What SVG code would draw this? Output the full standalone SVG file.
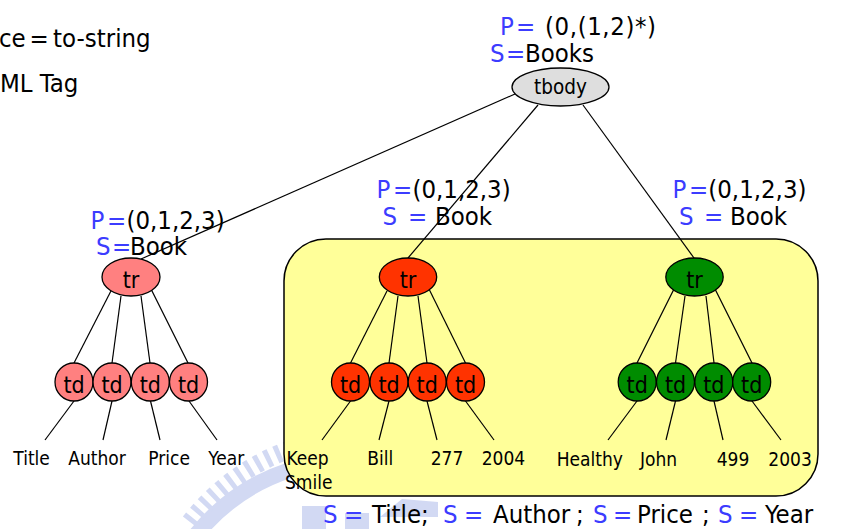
<svg xmlns="http://www.w3.org/2000/svg" width="855" height="529" viewBox="0 0 855 529">
  <style>
    text { font-family: "DejaVu Sans Condensed", "Liberation Sans", Arial, sans-serif; fill: #000; }
    .big { font-size: 25.5px; }
    .blue { fill: #3c3cff; }
    .node { font-size: 23px; text-anchor: middle; }
    .leaf { font-size: 19px; }
    .edge { stroke: #000; stroke-width: 1.2; fill: none; }
    .outline { stroke: #000; stroke-width: 1.3; }
    .pink { fill: #ff8080; }
    .red { fill: #ff3300; }
    .green { fill: #008c00; }
    .wm { fill: #c3cdf0; }
  </style>

  <rect width="855" height="529" fill="#fff"/>

  <!-- faded emblem in the background -->
  <g id="emblem" opacity="0.75">
    <path d="M 196 535 A 200 200 0 0 1 290 470" stroke="#c3cdf0" stroke-width="16" fill="none"/>
    <path d="M 190 522 A 222 222 0 0 1 288 450" stroke="#c3cdf0" stroke-width="18" stroke-dasharray="5 6" fill="none"/>
    <rect class="wm" x="302" y="506" width="24" height="23"/>
    <rect class="wm" x="345" y="513" width="24" height="16"/>
    <polygon class="wm" points="380,517 402,499 438,502 438,517"/>
  </g>

  <!-- top-left notes -->
  <g id="notes">
    <text class="big" x="-1" y="46.5">ce</text>
    <text class="big" x="29.5" y="46.5">=</text>
    <text class="big" x="53" y="46.5">to-string</text>
    <text class="big" x="0" y="91.5">ML Tag</text>
  </g>

  <!-- highlighted region -->
  <rect id="region" x="284" y="239" width="534" height="257" rx="42" ry="42" fill="#ffff99" stroke="#000" stroke-width="1.5"/>

  <!-- connectors -->
  <g id="connectors" class="edge">
    <line x1="515" y1="94" x2="141" y2="259"/>
    <line x1="538" y1="105" x2="408" y2="258"/>
    <line x1="583" y1="105" x2="694" y2="258"/>

    <line x1="113" y1="287" x2="74" y2="363"/>
    <line x1="121" y1="296" x2="112" y2="363"/>
    <line x1="141" y1="296" x2="150" y2="363"/>
    <line x1="150" y1="287" x2="188" y2="363"/>

    <line x1="387" y1="291" x2="350.5" y2="363"/>
    <line x1="398" y1="296" x2="389" y2="363"/>
    <line x1="418" y1="296" x2="427" y2="363"/>
    <line x1="428" y1="287" x2="465.5" y2="363"/>

    <line x1="675" y1="287" x2="637" y2="363"/>
    <line x1="685" y1="296" x2="675.5" y2="363"/>
    <line x1="706" y1="296" x2="714" y2="363"/>
    <line x1="714" y1="287" x2="752" y2="363"/>

    <line x1="74" y1="401" x2="45" y2="440"/>
    <line x1="112" y1="401" x2="103" y2="440"/>
    <line x1="150.5" y1="401" x2="160" y2="440"/>
    <line x1="189" y1="401" x2="217" y2="440"/>

    <line x1="350.5" y1="401" x2="322" y2="440"/>
    <line x1="389" y1="401" x2="379" y2="440"/>
    <line x1="427" y1="401" x2="437" y2="440"/>
    <line x1="465.5" y1="401" x2="494" y2="440"/>

    <line x1="637" y1="401" x2="608" y2="440"/>
    <line x1="675.5" y1="401" x2="666" y2="440"/>
    <line x1="714" y1="401" x2="723" y2="440"/>
    <line x1="752" y1="401" x2="781" y2="440"/>
  </g>

  <!-- root -->
  <g id="tbody">
    <ellipse class="outline" cx="560.5" cy="87" rx="48.5" ry="19" fill="#dedede"/>
    <text x="560.5" y="94" font-size="20.5" text-anchor="middle">tbody</text>
    <text class="big" y="35"><tspan class="blue" x="500">P</tspan><tspan class="blue" x="516">=</tspan><tspan x="545" letter-spacing="0.6">(0,(1,2)*)</tspan></text>
    <text class="big" y="62"><tspan class="blue" x="490">S</tspan><tspan class="blue" x="506">=</tspan><tspan x="525">Books</tspan></text>
  </g>

  <!-- rows -->
  <g id="tr-left">
    <ellipse class="outline pink" cx="131" cy="277" rx="29" ry="19"/>
    <text class="node" x="131" y="288">tr</text>
    <text class="big" y="229"><tspan class="blue" x="90.5">P</tspan><tspan class="blue" x="107">=</tspan><tspan x="126.5">(0,1,2,3)</tspan></text>
    <text class="big" y="255"><tspan class="blue" x="96">S</tspan><tspan class="blue" x="112">=</tspan><tspan x="130">Book</tspan></text>
  </g>

  <g id="tr-mid">
    <ellipse class="outline red" cx="408" cy="277" rx="28.7" ry="19"/>
    <text class="node" x="408" y="288">tr</text>
    <text class="big" y="198"><tspan class="blue" x="376.5">P</tspan><tspan class="blue" x="393">=</tspan><tspan x="412.5">(0,1,2,3)</tspan></text>
    <text class="big" y="225"><tspan class="blue" x="382.5">S</tspan><tspan class="blue" x="408">=</tspan><tspan x="435">Book</tspan></text>
  </g>

  <g id="tr-right">
    <ellipse class="outline green" cx="694.5" cy="277" rx="28.7" ry="19"/>
    <text class="node" x="694.5" y="288">tr</text>
    <text class="big" y="198"><tspan class="blue" x="672.5">P</tspan><tspan class="blue" x="689">=</tspan><tspan x="708.3">(0,1,2,3)</tspan></text>
    <text class="big" y="225"><tspan class="blue" x="679">S</tspan><tspan class="blue" x="704">=</tspan><tspan x="730">Book</tspan></text>
  </g>

  <!-- cells -->
  <g id="td-left">
    <circle class="outline pink" cx="74" cy="382" r="19"/>
    <circle class="outline pink" cx="112" cy="382" r="19"/>
    <circle class="outline pink" cx="150.3" cy="382" r="19"/>
    <circle class="outline pink" cx="188.5" cy="382" r="19"/>
    <text class="node" x="74" y="393">td</text>
    <text class="node" x="112" y="393">td</text>
    <text class="node" x="150.3" y="393">td</text>
    <text class="node" x="188.5" y="393">td</text>
  </g>

  <g id="td-mid">
    <circle class="outline red" cx="350.5" cy="382" r="19"/>
    <circle class="outline red" cx="389" cy="382" r="19"/>
    <circle class="outline red" cx="427.2" cy="382" r="19"/>
    <circle class="outline red" cx="465.5" cy="382" r="19"/>
    <text class="node" x="350.5" y="393">td</text>
    <text class="node" x="389" y="393">td</text>
    <text class="node" x="427.2" y="393">td</text>
    <text class="node" x="465.5" y="393">td</text>
  </g>

  <g id="td-right">
    <circle class="outline green" cx="637.2" cy="382" r="19"/>
    <circle class="outline green" cx="675.5" cy="382" r="19"/>
    <circle class="outline green" cx="713.8" cy="382" r="19"/>
    <circle class="outline green" cx="751.7" cy="382" r="19"/>
    <text class="node" x="637.2" y="393">td</text>
    <text class="node" x="675.5" y="393">td</text>
    <text class="node" x="713.8" y="393">td</text>
    <text class="node" x="751.7" y="393">td</text>
  </g>

  <!-- values -->
  <g id="leaves-left">
    <text class="leaf" x="13.3" y="465">Title</text>
    <text class="leaf" x="68.3" y="465">Author</text>
    <text class="leaf" x="148.3" y="465">Price</text>
    <text class="leaf" x="208.3" y="465">Year</text>
  </g>
  <g id="leaves-mid">
    <text class="leaf" x="286.5" y="465">Keep</text>
    <text class="leaf" x="285" y="488.5">Smile</text>
    <text class="leaf" x="367.3" y="465">Bill</text>
    <text class="leaf" x="430.7" y="465">277</text>
    <text class="leaf" x="481.7" y="465">2004</text>
  </g>
  <g id="leaves-right">
    <text class="leaf" x="556.7" y="466">Healthy</text>
    <text class="leaf" x="640" y="466">John</text>
    <text class="leaf" x="716.7" y="466">499</text>
    <text class="leaf" x="768.3" y="466">2003</text>
  </g>

  <!-- field sequence -->
  <g id="fields">
    <text class="big" y="523"><tspan class="blue" x="323">S</tspan><tspan class="blue" x="344">=</tspan><tspan x="372">Title;</tspan><tspan class="blue" x="443">S</tspan><tspan class="blue" x="464">=</tspan><tspan x="493">Author</tspan><tspan x="576">;</tspan><tspan class="blue" x="593">S</tspan><tspan class="blue" x="613">=</tspan><tspan x="637">Price</tspan><tspan x="702">;</tspan><tspan class="blue" x="718">S</tspan><tspan class="blue" x="739">=</tspan><tspan x="765">Year</tspan></text>
  </g>
</svg>
